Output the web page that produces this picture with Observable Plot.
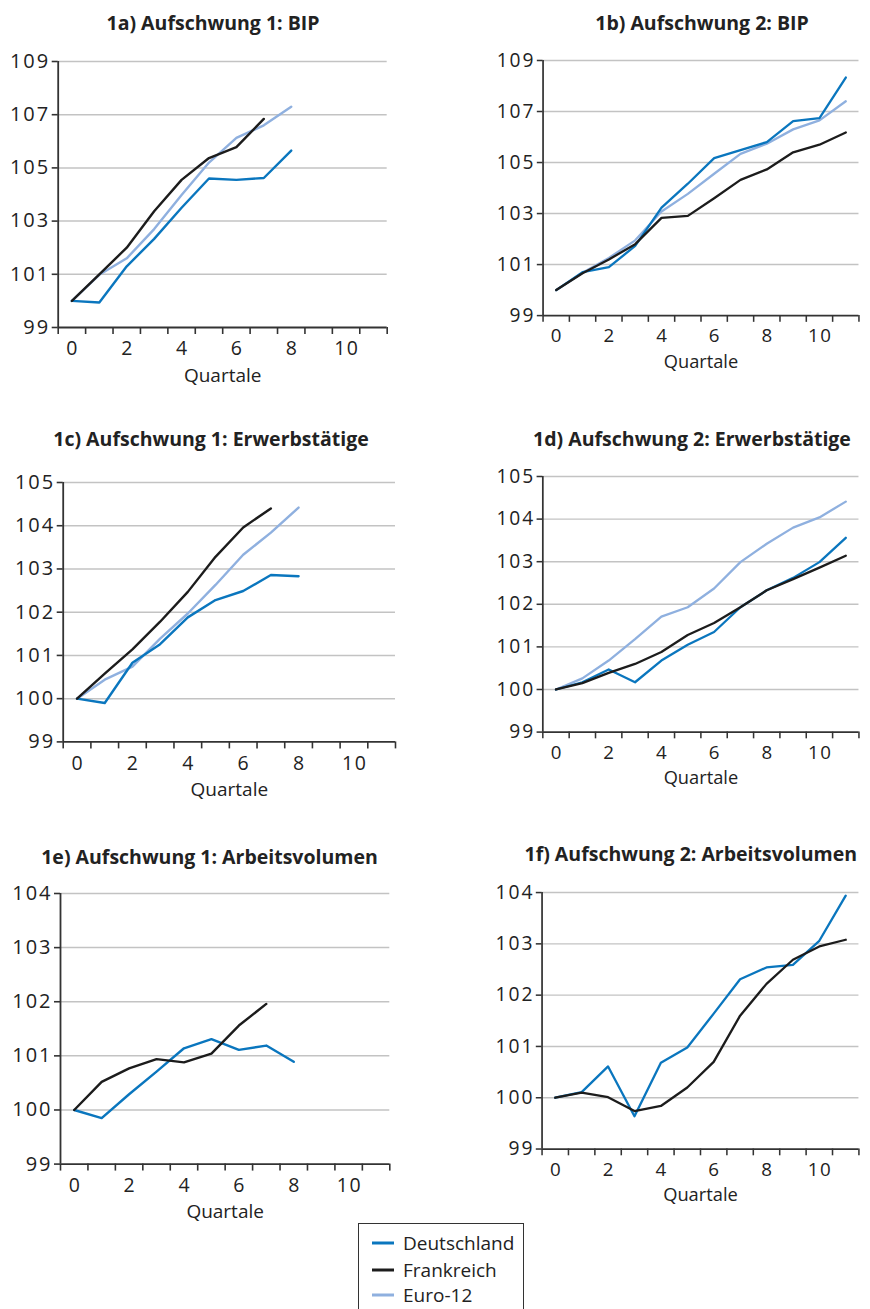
<!DOCTYPE html>
<html>
<head>
<meta charset="utf-8">
<script src="https://cdn.jsdelivr.net/npm/d3@7"></script>
<script src="https://cdn.jsdelivr.net/npm/@observablehq/plot@0.6"></script>
<style>
html, body { margin: 0; padding: 0; overflow: hidden; background: #fff; }
#page { position: relative; width: 870px; height: 1309px; overflow: hidden; font-family: "Open Sans", sans-serif; color: #222; }
.title { position: absolute; font-weight: 700; font-size: 19.5px; white-space: nowrap; transform: translate(-50%, -50%); color: #222; }
.panel { position: absolute; }
.panel g[aria-label="y-axis tick label"] { letter-spacing: 2px; }
.panel g[aria-label="x-axis tick label"] { letter-spacing: 1.5px; }
.legend { position: absolute; left: 358px; top: 1223px; width: 166px; height: 100px; border: 1.3px solid #333; box-sizing: border-box; background: #fff; }
.legend .item { position: absolute; left: 13px; height: 26px; display: flex; align-items: center; font-size: 19px; white-space: nowrap; transform: translateY(-50%); }
.legend svg { margin-right: 9px; }
</style>
</head>
<body>
<div id="page"></div>
<script>
// ---- Data ----
const seriesNames = ["Deutschland", "Frankreich", "Euro-12"];
const seriesColors = ["#0a76be", "#1c1c1c", "#8fb0df"];

const quarters1 = [0, 1, 2, 3, 4, 5, 6, 7, 8];
const quarters2 = [0, 1, 2, 3, 4, 5, 6, 7, 8, 9, 10, 11];
const xLabels = [0, 2, 4, 6, 8, 10];

// 1a) Aufschwung 1: BIP
const bip1_de = [100.0, 99.94, 101.3, 102.33, 103.5, 104.6, 104.55, 104.62, 105.65];
const bip1_fr = [100.0, 101.0, 102.0, 103.37, 104.55, 105.37, 105.78, 106.84];
const bip1_eu = [100.0, 100.98, 101.6, 102.7, 103.98, 105.2, 106.13, 106.6, 107.3];
// 1b) Aufschwung 2: BIP
const bip2_de = [100.0, 100.7, 100.9, 101.73, 103.23, 104.17, 105.17, 105.49, 105.8, 106.62, 106.74, 108.33];
const bip2_fr = [100.0, 100.66, 101.2, 101.8, 102.83, 102.91, 103.6, 104.32, 104.73, 105.4, 105.7, 106.18];
const bip2_eu = [100.0, 100.68, 101.26, 101.95, 103.08, 103.77, 104.56, 105.34, 105.74, 106.3, 106.65, 107.4];
// 1c) Aufschwung 1: Erwerbstätige
const erw1_de = [100.0, 99.9, 100.83, 101.26, 101.88, 102.28, 102.49, 102.86, 102.83];
const erw1_fr = [100.0, 100.58, 101.14, 101.78, 102.47, 103.28, 103.96, 104.4];
const erw1_eu = [100.0, 100.44, 100.74, 101.39, 101.97, 102.63, 103.33, 103.84, 104.42];
// 1d) Aufschwung 2: Erwerbstätige
const erw2_de = [100.0, 100.17, 100.47, 100.17, 100.68, 101.05, 101.35, 101.93, 102.33, 102.62, 102.99, 103.56];
const erw2_fr = [100.0, 100.15, 100.39, 100.6, 100.88, 101.28, 101.56, 101.93, 102.33, 102.59, 102.86, 103.14];
const erw2_eu = [100.0, 100.26, 100.68, 101.18, 101.71, 101.93, 102.37, 102.99, 103.42, 103.8, 104.04, 104.41];
// 1e) Aufschwung 1: Arbeitsvolumen
const av1_de = [100.0, 99.85, 100.29, 100.71, 101.14, 101.31, 101.11, 101.19, 100.89];
const av1_fr = [100.0, 100.52, 100.77, 100.94, 100.88, 101.04, 101.56, 101.96];
// 1f) Aufschwung 2: Arbeitsvolumen
const av2_de = [100.0, 100.11, 100.61, 99.64, 100.68, 100.98, 101.64, 102.31, 102.54, 102.59, 103.06, 103.94];
const av2_fr = [100.0, 100.1, 100.01, 99.74, 99.84, 100.2, 100.7, 101.6, 102.22, 102.69, 102.95, 103.08];

const yTicksBIP = [99, 101, 103, 105, 107, 109];
const yTicksErw = [99, 100, 101, 102, 103, 104, 105];
const yTicksAV = [99, 100, 101, 102, 103, 104];

// ---- Layout ----
const panels = [
  {title: "1a) Aufschwung 1: BIP", tx: 213, ty: 22, left: 0, x0: 57.7, x1: 386.7, yTop: 61, yBot: 327, yTicks: yTicksBIP,
   series: [[2, quarters1, bip1_eu], [0, quarters1, bip1_de], [1, quarters1, bip1_fr]]},
  {title: "1b) Aufschwung 2: BIP", tx: 702, ty: 22, left: 460, x0: 546, x1: 875, yTop: 61, yBot: 326.7, yTicks: yTicksBIP,
   series: [[2, quarters2, bip2_eu], [0, quarters2, bip2_de], [1, quarters2, bip2_fr]]},
  {title: "1c) Aufschwung 1: Erwerbstätige", tx: 211, ty: 438, left: 0, x0: 62.7, x1: 395, yTop: 482.3, yBot: 741.7, yTicks: yTicksErw,
   series: [[2, quarters1, erw1_eu], [0, quarters1, erw1_de], [1, quarters1, erw1_fr]]},
  {title: "1d) Aufschwung 2: Erwerbstätige", tx: 692, ty: 438, left: 460, x0: 545.7, x1: 874.7, yTop: 476.7, yBot: 742.7, yTicks: yTicksErw,
   series: [[2, quarters2, erw2_eu], [0, quarters2, erw2_de], [1, quarters2, erw2_fr]]},
  {title: "1e) Aufschwung 1: Arbeitsvolumen", tx: 209.5, ty: 856, left: 0, x0: 60, x1: 389.3, yTop: 892.7, yBot: 1163.3, yTicks: yTicksAV,
   series: [[0, quarters1, av1_de], [1, quarters1, av1_fr]]},
  {title: "1f) Aufschwung 2: Arbeitsvolumen", tx: 690.8, ty: 853.3, left: 460, x0: 544.7, x1: 873.7, yTop: 892.7, yBot: 1159, yTicks: yTicksAV,
   series: [[0, quarters2, av2_de], [1, quarters2, av2_fr]]}
];

const boundaries = d3.range(-0.5, 12, 1);
const page = document.getElementById("page");
const intFmt = d3.format("d");

for (const p of panels) {
  const t = document.createElement("div");
  t.className = "title";
  t.style.left = p.tx + "px";
  t.style.top = p.ty + "px";
  t.textContent = p.title;
  page.appendChild(t);

  const top = p.yTop - 25;
  const height = (p.yBot - p.yTop) + 25 + 65;
  const width = (p.x1 - p.left) + 12;
  const yDom = [p.yTicks[0], p.yTicks[p.yTicks.length - 1]];

  const marks = [
    Plot.ruleY(p.yTicks.slice(1), {stroke: "#c3c3c3", strokeWidth: 1.5}),
    Plot.axisY({ticks: p.yTicks, tickFormat: intFmt, tickSize: 6, tickPadding: 2, fontSize: 20, stroke: "#333", strokeWidth: 1.6, label: null, color: "#222"}),
    Plot.axisX({ticks: boundaries, tickSize: 7, tickFormat: () => "", stroke: "#333", strokeWidth: 1.6, label: null}),
    Plot.axisX({ticks: xLabels, tickFormat: intFmt, tickSize: 0, tickPadding: 14, fontSize: 19.5, dx: 0.75, label: null, color: "#222"}),
    Plot.text(["Quartale"], {frameAnchor: "bottom", dy: 48, lineAnchor: "middle", fontSize: 19, fill: "#222"}),
    Plot.ruleX([-0.5], {stroke: "#333", strokeWidth: 1.8}),
    Plot.ruleY([yDom[0]], {stroke: "#333", strokeWidth: 1.8})
  ];
  for (const [si, qs, vals] of p.series) {
    const data = vals.map((v, i) => ({q: qs[i], v}));
    marks.push(Plot.line(data, {x: "q", y: "v", stroke: seriesColors[si], strokeWidth: 2.4}));
  }

  const chart = Plot.plot({
    width, height,
    marginLeft: p.x0 - p.left,
    marginRight: width - (p.x1 - p.left),
    marginTop: p.yTop - top,
    marginBottom: top + height - p.yBot,
    style: {fontFamily: "Open Sans, sans-serif", fontSize: "19px", color: "#222", background: "transparent", overflow: "visible"},
    x: {domain: [-0.5, 11.5]},
    y: {domain: yDom},
    marks
  });
  const wrap = document.createElement("div");
  wrap.className = "panel";
  wrap.style.left = p.left + "px";
  wrap.style.top = top + "px";
  wrap.appendChild(chart);
  page.appendChild(wrap);
}

// ---- Legend ----
const legend = document.createElement("div");
legend.className = "legend";
const itemY = [19, 45.5, 71];
seriesNames.forEach((name, i) => {
  const it = document.createElement("div");
  it.className = "item";
  it.style.top = itemY[i] + "px";
  it.innerHTML = `<svg width="22" height="6"><line x1="0" x2="22" y1="3" y2="3" stroke="${seriesColors[i]}" stroke-width="3"/></svg><span>${name}</span>`;
  legend.appendChild(it);
});
page.appendChild(legend);
</script>
</body>
</html>
